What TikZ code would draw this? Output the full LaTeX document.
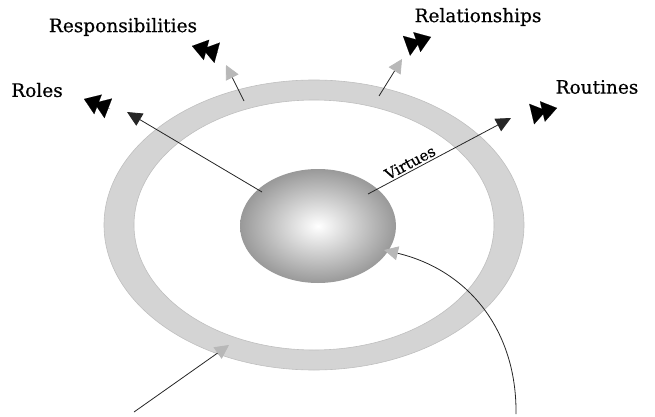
\documentclass[tikz,border=0pt]{standalone}
\usepackage{fontspec}
\setmainfont[FakeBold=0.6]{DejaVu Serif}
\usetikzlibrary{arrows.meta, shapes.geometric}
\tikzset{% change default arrow tips
    >={Triangle[length=15pt,width=14pt]}
}
\definecolor{ringgray}{gray}{0.83}
\definecolor{ringedge}{gray}{0.75}
\definecolor{tipgray}{gray}{0.72}

\begin{document}
\begin{tikzpicture}[x=1pt, y=-1pt]
    \newcommand{\cx}{314}
    \newcommand{\cy}{225}
    \newcommand{\bigtxt}{\fontsize{18.5}{22}\selectfont}
    \newcommand{\smalltxt}{\fontsize{15}{17}\selectfont}

    % set the styles of the spokes and heads
    \tikzset{
        spoke/.style={draw=black!85, line width=0.8pt},
        blackhead/.style={spoke, ->},
        grayhead/.style={spoke, -{Triangle[length=14pt,width=14pt,color=tipgray]}},
        dblhead/.style={line width=0.1pt,
            -{Triangle[length=15pt,width=21pt,sep=-4pt] Triangle[length=15pt,width=21pt]}},
        caption/.style={font=\bigtxt, inner sep=1pt}
    }

    \useasboundingbox (0,0) rectangle (655,417);

    % ring
    \fill[ringgray, even odd rule] (\cx,\cy) ellipse [x radius=210pt, y radius=145pt]
                                   (\cx,\cy) ellipse [x radius=180pt, y radius=125pt];
    \draw[ringedge, line width=0.6pt] (\cx,\cy) ellipse [x radius=210pt, y radius=145pt];
    \draw[ringedge, line width=0.6pt] (\cx,\cy) ellipse [x radius=180pt, y radius=125pt];

    % core
    \node[ellipse, minimum width=156pt, minimum height=114pt,
          inner color=white, outer color=gray!80] (core) at (318,226) {};

    % captions
    \node[caption] (roles) at (37,90) {Roles};
    \node[caption] (resp) at (123,27) {Responsibilities};
    \node[caption] (rel) at (478,17) {Relationships};
    \node[caption] (rout) at (597,87) {Routines};

    % end points
    \coordinate (rolesfoot) at (262,192);
    \coordinate (rolestip) at (127,112);
    \coordinate (virtfoot) at (368,194);
    \coordinate (virttip) at (511,118);
    \coordinate (respfoot) at (244,101);
    \coordinate (resptip) at (226,65);
    \coordinate (relfoot) at (379,96);
    \coordinate (reltip) at (402,59);
    \coordinate (lowfoot) at (134,412);
    \coordinate (lowtip) at (229,345);
    \coordinate (curvefoot) at (516,414);
    \coordinate (curvetip) at (384,250);

    % spokes from the core and the ring
    \draw[blackhead] (rolesfoot) -- (rolestip);
    \draw[blackhead] (virtfoot) -- (virttip) node [pos=0.32, above, sloped, font=\smalltxt, inner sep=2pt] {Virtues};
    \draw[grayhead] (respfoot) -- (resptip);
    \draw[grayhead] (relfoot) -- (reltip);
    \draw[grayhead] (lowfoot) -- (lowtip);
    \draw[grayhead] (curvefoot) .. controls (517,330) and (468,270) .. (curvetip);

    % double heads
    \draw[dblhead] (110,109) -- (84,99);
    \draw[dblhead] (218,53) -- (192,46);
    \draw[dblhead] (406,46) -- (431,37);
    \draw[dblhead] (532,114) -- (557,108);
\end{tikzpicture}
\end{document}
